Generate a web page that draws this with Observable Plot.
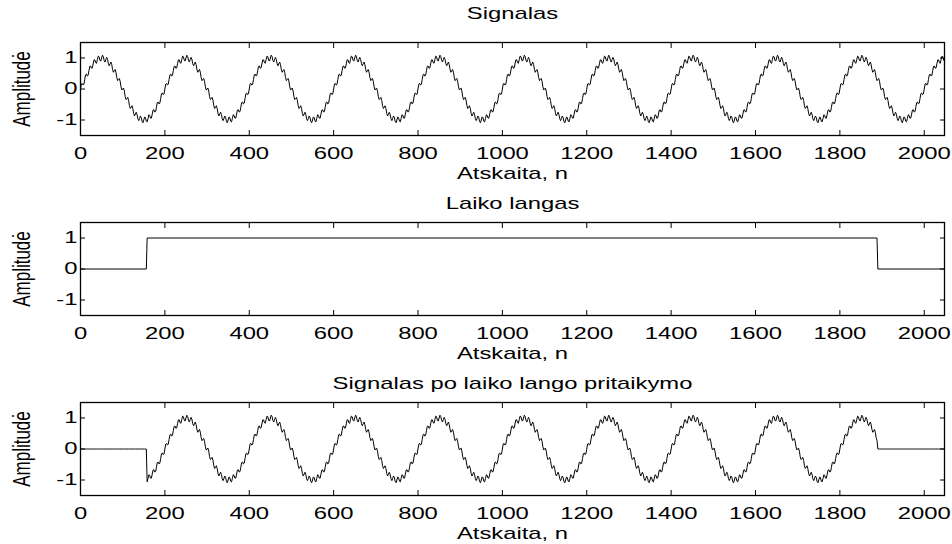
<!DOCTYPE html>
<html><head><meta charset="utf-8">
<script src="https://cdn.jsdelivr.net/npm/d3@7"></script>
<script src="https://cdn.jsdelivr.net/npm/@observablehq/plot@0.6"></script>
<style>
html,body{margin:0;padding:0;background:#fff;}
#chart{position:relative;width:952px;height:544px;background:#fff;}
#chart svg{position:absolute;left:0;overflow:visible;}
</style></head><body><div id="chart"></div>
<script>
// ---- data ----
const titles = ["Signalas", "Laiko langas", "Signalas po laiko lango pritaikymo"];
const xLabel = "Atskaita, n";
const yLabel = "Amplitudė";
const xTicks = [0, 200, 400, 600, 800, 1000, 1200, 1400, 1600, 1800, 2000];
const yTicks = [-1, 0, 1];
const xMax = 2048;
const sampleStep = 2;          // samples between listed values
// one period (200 samples) of the rippled sine, every 2nd sample
const periodValues = [
  0.00, 0.16, 0.18, 0.13, 0.15, 0.31, 0.46, 0.48, 0.42, 0.44,
  0.59, 0.73, 0.74, 0.67, 0.68, 0.81, 0.94, 0.94, 0.85, 0.83,
  0.95, 1.06, 1.04, 0.93, 0.90, 1.00, 1.09, 1.05, 0.92, 0.87,
  0.95, 1.02, 0.96, 0.82, 0.75, 0.81, 0.87, 0.79, 0.63, 0.54,
  0.59, 0.63, 0.54, 0.37, 0.27, 0.31, 0.34, 0.25, 0.07, -0.03,
  0.00, 0.03, -0.07, -0.25, -0.34, -0.31, -0.27, -0.37, -0.54, -0.63,
  -0.59, -0.54, -0.63, -0.79, -0.87, -0.81, -0.75, -0.82, -0.96, -1.02,
  -0.95, -0.87, -0.92, -1.05, -1.09, -1.00, -0.90, -0.93, -1.04, -1.06,
  -0.95, -0.83, -0.85, -0.94, -0.94, -0.81, -0.68, -0.67, -0.74, -0.73,
  -0.59, -0.44, -0.42, -0.48, -0.46, -0.31, -0.15, -0.13, -0.18, -0.16
];
// time window (rectangular)
const windowN = [0, 156, 158, 1888, 1890, 2048];
const windowA = [0, 0, 1, 1, 0, 0];

// ---- build tables ----
const signal = [];
for (let i = 0; i * sampleStep <= xMax; i++) {
  signal.push({n: i * sampleStep, a: periodValues[i % periodValues.length]});
}
const win = windowN.map((n, i) => ({n, a: windowA[i]}));
const winAt = d3.scaleLinear().domain(windowN).range(windowA).clamp(true);
const windowed = signal.map(d => ({n: d.n, a: d.a * winAt(d.n)}));

const font = "'Liberation Sans', Arial, Helvetica, sans-serif";
const titleOffsets = [-24, -14, -14];

function panel(rows, title, titleDy) {
  return Plot.plot({
    width: 952, height: 180,
    marginLeft: 80, marginRight: 8, marginTop: 42, marginBottom: 45,
    style: {fontFamily: font, fontSize: "17px", color: "black", background: "transparent", overflow: "visible"},
    x: {domain: [0, xMax]},
    y: {domain: [-1.5, 1.5]},
    marks: [
      Plot.line(rows, {x: "n", y: "a", stroke: "black", strokeWidth: 1}),
      Plot.axisX(xTicks, {anchor: "bottom", tickSize: 5, dy: -5, fill: "none", label: null}),
      Plot.axisX(xTicks, {anchor: "top", tickSize: 5, dy: 5, fill: "none", label: null}),
      Plot.axisX(xTicks, {anchor: "bottom", tickSize: 0, tickPadding: 11, tickFormat: d => String(d), label: null}),
      Plot.axisY(yTicks, {anchor: "left", tickSize: 5, dx: 5, fill: "none", label: null}),
      Plot.axisY(yTicks, {anchor: "right", tickSize: 5, dx: -5, fill: "none", label: null}),
      Plot.axisY(yTicks, {anchor: "left", tickSize: 0, tickPadding: 3, tickFormat: d => String(d), label: null}),
      Plot.frame({stroke: "black", strokeWidth: 1.3}),
      Plot.text([title], {text: d => d, frameAnchor: "top", dy: titleDy, lineAnchor: "bottom"}),
      Plot.text([xLabel], {text: d => d, frameAnchor: "bottom", dy: 43, lineAnchor: "bottom"}),
      Plot.text([yLabel], {text: d => d, frameAnchor: "left", dx: -58, rotate: -90, textAnchor: "middle", lineAnchor: "middle"})
    ]
  });
}

function isRotated(el) {
  for (let e = el; e && e.tagName && e.tagName.toLowerCase() !== "svg"; e = e.parentNode) {
    const tr = e.getAttribute && e.getAttribute("transform");
    if (tr && tr.includes("rotate")) return true;
  }
  return false;
}

const chart = document.getElementById("chart");
const stretchK = 1.4;
[signal, win, windowed].forEach((rows, i) => {
  const svg = panel(rows, titles[i], titleOffsets[i]);
  svg.style.top = (i * 180) + "px";
  chart.appendChild(svg);
  svg.querySelectorAll("text").forEach(t => {
    if (isRotated(t)) {
      const tr = t.getAttribute("transform") || "";
      t.setAttribute("transform", (tr + ` scale(1,${stretchK})`).trim());
      return;
    }
    const w = t.getComputedTextLength();
    if (w > 0) {
      t.setAttribute("textLength", w * stretchK);
      t.setAttribute("lengthAdjust", "spacingAndGlyphs");
    }
  });
});
</script></body></html>
